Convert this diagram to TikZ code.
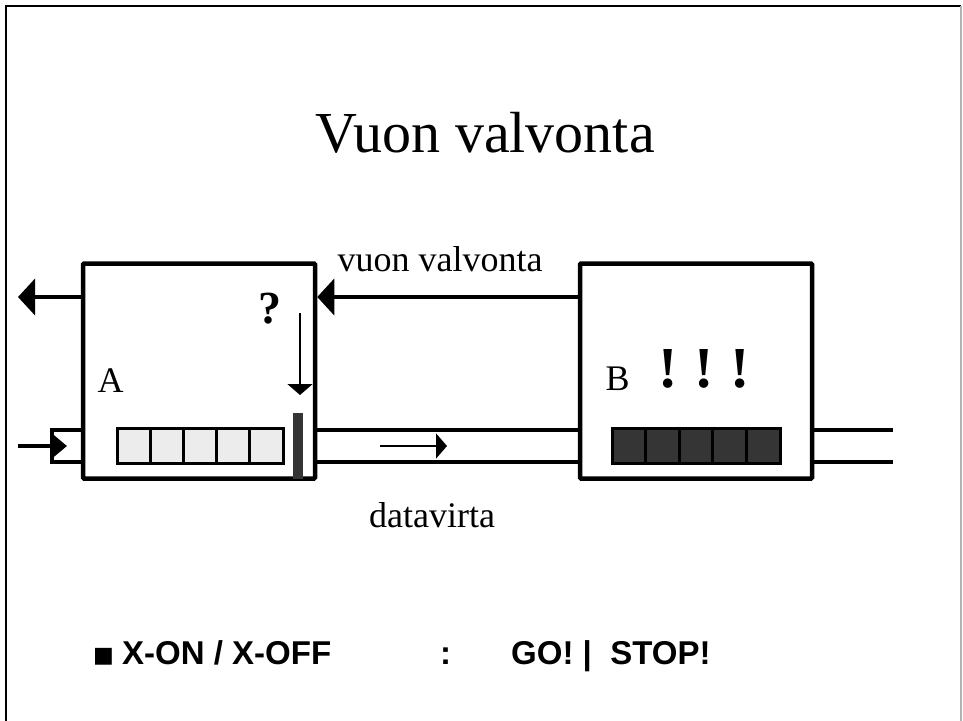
\documentclass[tikz,border=0pt]{standalone}
\usepackage{fontspec}
\setmainfont{Liberation Serif}
\setsansfont{Liberation Sans}
\newfontfamily\symfont{DejaVu Sans}
\usetikzlibrary{arrows.meta,calc}
\definecolor{lightcell}{HTML}{ECECEC}
\definecolor{darkcell}{HTML}{353535}
\begin{document}
\begin{tikzpicture}[x=1pt,y=-1pt,
  box/.style={draw,line width=4.5pt,minimum width=232pt,minimum height=215pt,inner sep=0pt,rounded corners=1pt},
  cell/.style={draw,line width=3pt,minimum width=33.2pt,minimum height=35pt,inner sep=0pt},
  pipe/.style={line width=4pt},
  bigarrow/.style={line width=4pt,-{Triangle[length=17pt,width=36pt]}},
  inarrow/.style={line width=4pt,-{Triangle[length=15pt,width=24pt]}},
  thinarrow/.style={line width=1.8pt,-{Triangle[length=11pt,width=25pt]}},
  lbl/.style={font=\fontsize{36}{40}\selectfont,anchor=base,inner sep=0pt},
  bot/.style={font=\sffamily\bfseries\fontsize{33}{36}\selectfont,anchor=base west,inner sep=0pt}]
\useasboundingbox (0,0) rectangle (963,720);
% frame
\draw[line width=2.2pt] (6,725) -- (6,6) -- (961,6);
\draw[line width=1.5pt,gray!60] (961,6) -- (961,725);
% title
\node[font=\fontsize{58}{62}\selectfont,anchor=base,inner sep=0pt] (title) at (485,152) {Vuon valvonta};
% boxes
\node[box] (A) at (199,371) {};
\node[box] (B) at (696,371) {};
% reference coordinates
\coordinate (ctl) at (0,297);
\coordinate (ptop) at (0,430);
\coordinate (pbot) at (0,462);
\coordinate (outL) at (18,297);
\coordinate (inS) at (18,446);
\coordinate (inE) at (67,446);
\coordinate (pL) at (52,446);
\coordinate (pR) at (893,446);
% control arrows
\draw[bigarrow] (A.west |- ctl) -- (outL);
\draw[bigarrow] (B.west |- ctl) -- (A.east |- ctl);
\node[lbl] (vv) at (440,271) {vuon valvonta};
% pipes
\draw[pipe] (A.west |- ptop) -- (pL |- ptop) -- (pL |- pbot) -- (A.west |- pbot);
\draw[pipe] (A.east |- ptop) -- (B.west |- ptop);
\draw[pipe] (A.east |- pbot) -- (B.west |- pbot);
\draw[pipe] (B.east |- ptop) -- (pR |- ptop);
\draw[pipe] (B.east |- pbot) -- (pR |- pbot);
\draw[inarrow] (inS) -- (inE);
% data flow arrow
\coordinate (dS) at (380,446);
\coordinate (dE) at (447,446);
\draw[thinarrow] (dS) -- (dE);
\node[lbl] (dv) at (432,527) {datavirta};
% labels
\node[lbl] (la) at (110.5,392) {A};
\node[lbl] (lb) at (617.5,390) {B};
\node[lbl,font=\bfseries\fontsize{46}{50}\selectfont] (qm) at (270,323) {?};
\node[lbl,font=\bfseries\fontsize{58}{60}\selectfont] (e1) at (668,387) {!};
\node[lbl,font=\bfseries\fontsize{58}{60}\selectfont] (e2) at (704,387) {!};
\node[lbl,font=\bfseries\fontsize{58}{60}\selectfont] (e3) at (740,387) {!};
% queue A
\foreach \i/\x in {1/133.6,2/166.8,3/200,4/233.2,5/266.4}
  \node[cell,fill=lightcell] (qa\i) at (\x,446) {};
% queue B
\foreach \i/\x in {1/628.8,2/662.4,3/696,4/729.6,5/763.2}
  \node[cell,fill=darkcell,minimum width=33.6pt] (qb\i) at (\x,446) {};
% stop bar
\node[fill=darkcell,minimum width=10pt,minimum height=66pt,inner sep=0pt] (bar) at (298,446) {};
% query arrow
\coordinate (qS) at (300,313);
\coordinate (qE) at (300,395);
\draw[thinarrow] (qS) -- (qE);
% bottom line
\node[anchor=base west,inner sep=0pt,font=\symfont\fontsize{22}{24}\selectfont] (bul) at (93,662) {■};
\node[bot] (t1) at (122,664) {X-ON / X-OFF};
\node[bot] (t2) at (440,664) {:};
\node[bot] (t3) at (511,664) {GO! |\ \ STOP!};
\end{tikzpicture}
\end{document}
